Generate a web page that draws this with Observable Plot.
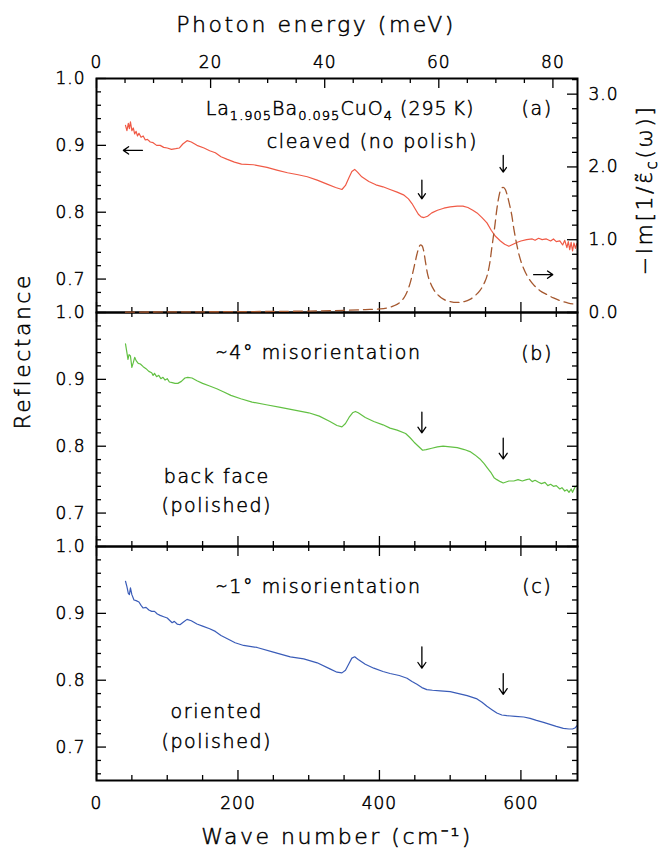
<!DOCTYPE html>
<html>
<head>
<meta charset="utf-8">
<script src="https://cdn.jsdelivr.net/npm/d3@7"></script>
<script src="https://cdn.jsdelivr.net/npm/@observablehq/plot@0.6"></script>
<style>
  body { margin: 0; background: #fff; }
  #chart { position: relative; width: 663px; height: 850px; font-family: "DejaVu Sans", sans-serif; }
  #chart svg text { font-weight: 300; stroke: #000; stroke-width: 0.5px; }
  #chart svg g[font-size="17"] { letter-spacing: 1px; }
  #chart svg g[font-size="19"] { letter-spacing: 1.6px; }
  #chart svg g[font-size="22"] { letter-spacing: 2.5px; }
</style>
</head>
<body>
<div id="chart"></div>
<script>
// Reflectance of La(2-x)Ba(x)CuO4, x = 0.095, at 295 K, E parallel to c.
// (a) cleaved surface, (b) polished back face (~4 deg off), (c) oriented polished face.
const waveA = [41, 43, 45, 46.5, 48, 50, 52, 54, 56, 58, 60, 63, 66, 69, 72, 76, 80, 85, 90, 95, 100, 106, 112, 117, 122, 128, 134, 142, 152, 160, 168, 176, 185, 195, 205, 222, 241, 255, 270, 285, 298, 312, 326, 338, 347, 352, 357, 361, 365, 369, 375, 385, 395, 405, 415, 425, 434, 441, 446, 451, 455, 459, 463, 468, 474, 482, 491, 500, 510, 518, 525, 532, 538, 545, 552, 558, 564, 571, 577, 583, 589, 595, 600, 608, 616, 620, 625, 630, 636, 642, 646, 650, 655, 659, 662, 665, 667, 669, 671, 673, 675, 677, 679];
const reflA = [0.930, 0.922, 0.933, 0.925, 0.935, 0.922, 0.926, 0.917, 0.921, 0.914, 0.918, 0.912, 0.914, 0.908, 0.909, 0.905, 0.904, 0.900, 0.900, 0.897, 0.896, 0.894, 0.895, 0.896, 0.902, 0.907, 0.905, 0.900, 0.896, 0.892, 0.889, 0.883, 0.879, 0.875, 0.872, 0.871, 0.867, 0.863, 0.859, 0.856, 0.853, 0.848, 0.842, 0.837, 0.834, 0.840, 0.852, 0.861, 0.864, 0.860, 0.853, 0.846, 0.841, 0.838, 0.834, 0.830, 0.826, 0.820, 0.813, 0.804, 0.797, 0.793, 0.792, 0.794, 0.799, 0.803, 0.806, 0.808, 0.809, 0.809, 0.807, 0.803, 0.799, 0.792, 0.784, 0.773, 0.764, 0.757, 0.752, 0.749, 0.752, 0.755, 0.757, 0.759, 0.760, 0.758, 0.761, 0.759, 0.760, 0.757, 0.760, 0.756, 0.757, 0.751, 0.758, 0.747, 0.756, 0.744, 0.755, 0.742, 0.754, 0.746, 0.753];

const waveB = [41, 43, 44.5, 46, 48, 50, 52, 54, 56, 59, 62, 66, 70, 74, 78, 80, 82, 85, 88, 91, 94, 97, 100, 103, 107, 111, 115, 120, 125, 129, 135, 142, 150, 160, 170, 180, 190, 204, 220, 240, 260, 280, 300, 315, 330, 340, 347, 352, 357, 362, 366, 370, 380, 392, 405, 415, 425, 437, 443, 449, 455, 461, 466, 474, 482, 490, 500, 510, 520, 528, 535, 542, 548, 553, 558, 562, 566, 571, 575, 583, 590, 596, 602, 608, 612, 616, 620, 625, 629, 634, 638, 642, 646, 650, 655, 658, 662, 665, 668, 671, 673, 676, 679];
const reflB = [0.953, 0.940, 0.930, 0.937, 0.935, 0.918, 0.925, 0.933, 0.928, 0.924, 0.923, 0.919, 0.916, 0.912, 0.910, 0.906, 0.909, 0.904, 0.906, 0.901, 0.903, 0.899, 0.901, 0.896, 0.895, 0.894, 0.894, 0.897, 0.902, 0.903, 0.902, 0.898, 0.894, 0.890, 0.886, 0.881, 0.876, 0.871, 0.866, 0.862, 0.858, 0.854, 0.850, 0.845, 0.837, 0.831, 0.829, 0.834, 0.843, 0.850, 0.852, 0.850, 0.843, 0.837, 0.832, 0.827, 0.824, 0.819, 0.813, 0.806, 0.800, 0.794, 0.795, 0.797, 0.799, 0.800, 0.799, 0.798, 0.795, 0.792, 0.787, 0.781, 0.774, 0.767, 0.760, 0.753, 0.750, 0.747, 0.745, 0.748, 0.748, 0.750, 0.748, 0.750, 0.751, 0.747, 0.749, 0.746, 0.744, 0.746, 0.741, 0.743, 0.740, 0.741, 0.736, 0.738, 0.733, 0.735, 0.731, 0.736, 0.731, 0.738, 0.741];

const waveC = [41, 43, 45, 46.5, 48, 50, 53, 56, 60, 63, 66, 70, 74, 78, 82, 86, 90, 95, 100, 104, 107, 110, 114, 118, 123, 128, 134, 142, 150, 160, 168, 176, 185, 196, 208, 227, 250, 274, 293, 312, 330, 340, 347, 352, 357, 361, 365, 370, 380, 392, 405, 415, 428, 439, 446, 453, 460, 467, 475, 486, 500, 512, 524, 538, 545, 552, 559, 566, 573, 580, 592, 604, 613, 622, 632, 641, 650, 660, 668, 673, 677, 680];
const reflC = [0.948, 0.940, 0.930, 0.928, 0.938, 0.928, 0.920, 0.919, 0.917, 0.912, 0.908, 0.909, 0.905, 0.903, 0.903, 0.899, 0.897, 0.895, 0.893, 0.889, 0.886, 0.888, 0.884, 0.883, 0.887, 0.891, 0.889, 0.884, 0.881, 0.877, 0.873, 0.867, 0.862, 0.856, 0.852, 0.849, 0.842, 0.835, 0.832, 0.826, 0.817, 0.812, 0.811, 0.815, 0.825, 0.833, 0.835, 0.831, 0.824, 0.818, 0.813, 0.810, 0.807, 0.803, 0.798, 0.794, 0.789, 0.786, 0.785, 0.784, 0.783, 0.780, 0.777, 0.772, 0.767, 0.761, 0.756, 0.751, 0.748, 0.747, 0.746, 0.745, 0.743, 0.740, 0.737, 0.734, 0.731, 0.728, 0.727, 0.727, 0.729, 0.733];

// Loss function -Im[1/eps_c] of the cleaved sample (right-hand axis of panel a)
const waveLoss = [41, 100, 200, 300, 350, 380, 401, 420, 430, 437, 442, 446, 450, 453, 456, 458, 460, 462.5, 465, 468, 472, 477, 484, 491, 500, 510, 520, 528, 535, 542, 548, 552, 556, 559, 563, 566, 569, 572, 575, 578, 581, 584, 587, 590, 594, 598, 604, 611, 618, 627, 637, 646, 656, 667, 677];
const lossValues = [0.005, 0.008, 0.012, 0.02, 0.03, 0.04, 0.05, 0.09, 0.15, 0.24, 0.36, 0.50, 0.67, 0.80, 0.90, 0.93, 0.92, 0.85, 0.70, 0.53, 0.41, 0.31, 0.23, 0.18, 0.15, 0.138, 0.15, 0.18, 0.23, 0.30, 0.40, 0.50, 0.68, 0.90, 1.18, 1.42, 1.60, 1.70, 1.72, 1.69, 1.60, 1.48, 1.34, 1.15, 0.94, 0.77, 0.60, 0.47, 0.38, 0.30, 0.245, 0.20, 0.16, 0.13, 0.115];

// Phonon features marked with arrows (cm^-1)
const phononModes = [460, 575];

// Tick values
const cmMajor = [0, 200, 400, 600];
const cmMinor = [50, 100, 150, 250, 300, 350, 450, 500, 550, 650];
const meVMajor = [0, 20, 40, 60, 80];
const meVMinor = [5, 10, 15, 25, 30, 35, 45, 50, 55, 65, 70, 75];
const reflMajor = [0.7, 0.8, 0.9, 1.0];
const reflMinor = [0.66, 0.68, 0.72, 0.74, 0.76, 0.78, 0.82, 0.84, 0.86, 0.88, 0.92, 0.94, 0.96, 0.98];
const lossMajor = [0, 1, 2, 3];
const lossMinor = [0.2, 0.4, 0.6, 0.8, 1.2, 1.4, 1.6, 1.8, 2.2, 2.4, 2.6, 2.8, 3.2];

const CM_PER_MEV = 8.0655;
const xDomain = [0, 680];
const reflDomain = [0.65, 1.0];
const lossDomain = [0, 3.215];

// Layout
const W = 663, H = 850, ML = 96, MR = 86;
const panelTop = [78, 312, 546];
const panelBottom = [312, 546, 780];
const MAJOR = 10, MINOR = 5;
const tk = {stroke: "black", strokeWidth: 1.3};
const colors = {a: "#f05a46", b: "#62c043", c: "#3a5cb8", loss: "#a5582f"};

function frameDims(i) {
  return {ph: panelBottom[i] - panelTop[i], pw: W - ML - MR};
}

function plotPanel(i, yDomain, marks, bg) {
  return Plot.plot({
    width: W, height: H,
    marginTop: panelTop[i], marginBottom: H - panelBottom[i],
    marginLeft: ML, marginRight: MR,
    x: {domain: xDomain, axis: null},
    y: {domain: yDomain, axis: null},
    style: {position: "absolute", left: "0px", top: "0px", background: bg || "transparent",
            overflow: "visible", fontFamily: "'DejaVu Sans', sans-serif", maxWidth: "none", color: "black"},
    marks
  });
}

// Ticks on all four sides, pointing inward
function reflAxes(i, {topMeV = false, rightMirror = true} = {}) {
  const {ph, pw} = frameDims(i);
  const m = [
    Plot.tickX(cmMajor, {x: d => d, insetTop: ph - MAJOR, ...tk}),
    Plot.tickX(cmMinor, {x: d => d, insetTop: ph - MINOR, ...tk}),
    Plot.tickY(reflMajor, {y: d => d, insetRight: pw - MAJOR, ...tk}),
    Plot.tickY(reflMinor, {y: d => d, insetRight: pw - MINOR, ...tk}),
    Plot.text(reflMajor, {y: d => d, text: d => d.toFixed(1), frameAnchor: "left",
      textAnchor: "end", dx: -11, fontSize: 17})
  ];
  if (topMeV) {
    m.push(
      Plot.tickX(meVMajor, {x: d => d * CM_PER_MEV, insetBottom: ph - MAJOR, ...tk}),
      Plot.tickX(meVMinor, {x: d => d * CM_PER_MEV, insetBottom: ph - MINOR, ...tk}),
      Plot.text(meVMajor, {x: d => d * CM_PER_MEV, text: d => String(d), frameAnchor: "top",
        lineAnchor: "bottom", dy: -11, fontSize: 17})
    );
  } else {
    m.push(
      Plot.tickX(cmMajor, {x: d => d, insetBottom: ph - MAJOR, ...tk}),
      Plot.tickX(cmMinor, {x: d => d, insetBottom: ph - MINOR, ...tk})
    );
  }
  if (rightMirror) {
    m.push(
      Plot.tickY(reflMajor, {y: d => d, insetLeft: pw - MAJOR, ...tk}),
      Plot.tickY(reflMinor, {y: d => d, insetLeft: pw - MINOR, ...tk})
    );
  }
  return m;
}

function downArrows(tops, tips) {
  return Plot.arrow(phononModes, {
    x1: d => d, x2: d => d,
    y1: (d, j) => tops[j], y2: (d, j) => tips[j],
    headLength: 8, headAngle: 70, ...tk
  });
}

const frame = Plot.frame({stroke: "black", strokeWidth: 2});
const chart = document.getElementById("chart");

// (a) cleaved
const plotA = plotPanel(0, reflDomain, [
  Plot.line(waveA, {x: waveA, y: reflA, stroke: colors.a, strokeWidth: 1.2}),
  ...reflAxes(0, {topMeV: true, rightMirror: false}),
  Plot.text(["cleaved (no polish)"], {x: 390, y: 0.8955, text: d => d, lineAnchor: "bottom", fontSize: 19}),
  Plot.text(["(a)"], {x: 623, y: 0.945, text: d => d, lineAnchor: "bottom", fontSize: 19}),
  Plot.text(["Photon energy (meV)"], {frameAnchor: "top", text: d => d, dx: -21, dy: -47,
    lineAnchor: "bottom", fontSize: 22}),
  downArrows([0.848, 0.885], [0.820, 0.860]),
  Plot.arrow([0], {x1: 65, x2: 38, y1: 0.8925, y2: 0.8925, headLength: 8, headAngle: 70, ...tk}),
  frame
], "white");

// loss function on its own scale, drawn over panel (a)
const plotLoss = plotPanel(0, lossDomain, [
  Plot.line(waveLoss, {x: waveLoss, y: lossValues, stroke: colors.loss, strokeWidth: 1.3,
    strokeDasharray: "9,5", curve: "monotone-x"}),
  Plot.tickY(lossMajor, {y: d => d, insetLeft: frameDims(0).pw - MAJOR, ...tk}),
  Plot.tickY(lossMinor, {y: d => d, insetLeft: frameDims(0).pw - MINOR, ...tk}),
  Plot.text(lossMajor, {y: d => d, text: d => d.toFixed(1), frameAnchor: "right",
    textAnchor: "start", dx: 11, fontSize: 17}),
  Plot.arrow([0], {x1: 618, x2: 645, y1: 0.52, y2: 0.52, headLength: 8, headAngle: 70, ...tk})
]);

// (b) back face
const plotB = plotPanel(1, reflDomain, [
  Plot.line(waveB, {x: waveB, y: reflB, stroke: colors.b, strokeWidth: 1.2}),
  ...reflAxes(1),
  Plot.text(["\u223c4\u00b0 misorientation"], {x: 314, y: 0.930, text: d => d, lineAnchor: "bottom", fontSize: 19}),
  Plot.text(["(b)"], {x: 623, y: 0.929, text: d => d, lineAnchor: "bottom", fontSize: 19}),
  Plot.text(["back face", "(polished)"], {x: 170, y: [0.745, 0.702], text: d => d, lineAnchor: "bottom", fontSize: 19}),
  Plot.text(["Reflectance"], {frameAnchor: "left", text: d => d, dx: -74, rotate: -90, fontSize: 22}),
  downArrows([0.851, 0.812], [0.820, 0.781]),
  frame
]);

// (c) oriented
const plotC = plotPanel(2, reflDomain, [
  Plot.line(waveC, {x: waveC, y: reflC, stroke: colors.c, strokeWidth: 1.2}),
  ...reflAxes(2),
  Plot.text(cmMajor, {x: d => d, text: d => String(d), frameAnchor: "bottom", lineAnchor: "bottom",
    dy: 28, fontSize: 17}),
  Plot.text(["\u223c1\u00b0 misorientation"], {x: 314, y: 0.930, text: d => d, lineAnchor: "bottom", fontSize: 19}),
  Plot.text(["(c)"], {x: 623, y: 0.930, text: d => d, lineAnchor: "bottom", fontSize: 19}),
  Plot.text(["oriented", "(polished)"], {x: 170, y: [0.743, 0.6985], text: d => d, lineAnchor: "bottom", fontSize: 19}),
  Plot.text(["Wave number (cm\u207b\u00b9)"], {frameAnchor: "bottom", text: d => d, dy: 63,
    lineAnchor: "bottom", fontSize: 22}),
  downArrows([0.850, 0.810], [0.818, 0.779]),
  frame
]);

chart.append(plotA, plotB, plotC, plotLoss);

// Labels that need sub/superscripts
const xPx = d3.scaleLinear(xDomain, [ML, W - MR]);
const yPxA = d3.scaleLinear(reflDomain, [panelBottom[0], panelTop[0]]);

const formula = d3.select(plotA).append("text")
  .attr("x", xPx(155)).attr("y", yPxA(0.945))
  .attr("text-anchor", "start")
  .attr("font-size", 19).attr("letter-spacing", "1px").attr("fill", "black");
[["La", 0], ["1.905", 1], ["Ba", 0], ["0.095", 1], ["CuO", 0], ["4", 1], [" (295\u2009K)", 0]]
  .forEach(([s, sub], j, arr) => {
    const prevSub = j > 0 ? arr[j - 1][1] : 0;
    formula.append("tspan").text(s)
      .attr("font-size", sub ? 13 : 19)
      .attr("dy", sub === prevSub ? 0 : (sub ? 5 : -5));
  });

const lossTitle = d3.select(plotLoss).append("text")
  .attr("transform", `translate(652,${(panelTop[0] + panelBottom[0]) / 2 - 5}) rotate(-90)`)
  .attr("text-anchor", "middle").attr("font-size", 22).attr("letter-spacing", "2.5px")
  .attr("fill", "black");
lossTitle.append("tspan").text("\u2212Im[1/\u03b5\u0303");
lossTitle.append("tspan").text("c").attr("font-size", 15).attr("dy", 5);
lossTitle.append("tspan").text("(\u03c9)]").attr("dy", -5);
</script>
</body>
</html>
